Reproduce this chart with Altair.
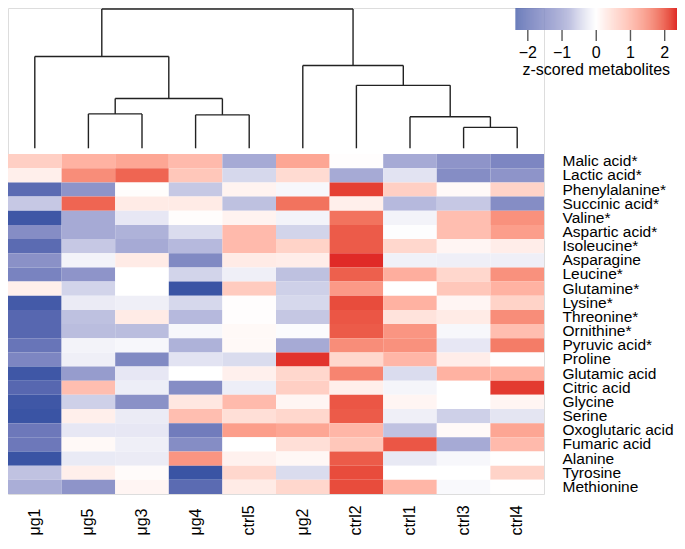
import altair as alt
import numpy as np
import pandas as pd

FONT = "Liberation Sans"

metabolites = [
    "Malic acid*", "Lactic acid*", "Phenylalanine*", "Succinic acid*", "Valine*",
    "Aspartic acid*", "Isoleucine*", "Asparagine", "Leucine*", "Glutamine*",
    "Lysine*", "Threonine*", "Ornithine*", "Pyruvic acid*", "Proline",
    "Glutamic acid", "Citric acid", "Glycine", "Serine", "Oxoglutaric acid",
    "Fumaric acid", "Alanine", "Tyrosine", "Methionine",
]
samples = ["μg1", "μg5", "μg3", "μg4", "ctrl5", "μg2", "ctrl2", "ctrl1", "ctrl3", "ctrl4"]

# z-scores per sample column (rows in metabolite order)
ug1 = [0.6, 0.2, -2.0, -0.7, -2.3, -1.5, -2.0, -1.45, -1.65, 0.2, -2.25, -2.05,
       -2.05, -1.85, -1.6, -2.3, -2.05, -2.3, -2.35, -1.8, -1.8, -2.35, -0.78, -1.05]
ug5 = [0.95, 1.4, -1.4, 1.85, -1.1, -1.1, -0.7, -0.15, -1.4, -0.55, -0.25, -0.8,
       -0.85, -0.15, -0.2, -1.3, 0.8, -0.6, 0.2, -0.3, 0.08, -0.27, 0.2, -1.4]
ug3 = [1.1, 1.85, 0.03, 0.25, -0.3, -1.0, -1.1, 0.25, 0.0, 0.0, -0.2, 0.25,
       -0.85, -0.1, -1.55, -0.3, -0.22, -1.45, -0.25, -0.3, -0.2, -0.25, 0.05, 0.12]
ug4 = [0.85, 0.7, -0.7, 0.25, 0.03, -0.45, -0.9, -1.55, -0.55, -2.35, -0.5, -0.9,
       -0.1, -1.0, -0.35, 0.0, -1.5, 0.3, 0.8, -1.75, -1.5, 1.3, -2.35, -2.0]
ctrl5 = [-1.1, -0.5, 0.15, -0.8, 0.15, 0.85, 0.85, 0.25, -0.2, 0.65, 0.02, 0.02,
         0.08, 0.08, -0.45, 0.18, -0.22, 0.85, 0.4, 1.2, 0.0, 0.17, 0.5, 0.25]
ug2 = [1.1, 0.45, -0.1, 1.7, -0.15, -0.55, 0.55, 0.22, -0.8, -0.6, -0.5, -0.72,
       -0.05, -1.1, 2.3, 0.5, 0.6, 0.12, 0.5, 1.1, 0.4, 0.1, -0.45, 0.5]
ctrl2 = [0.02, -1.1, 2.2, 0.2, 1.7, 1.95, 1.95, 2.36, 1.9, 1.25, 2.1, 2.0,
         1.95, 1.4, 0.5, 1.5, 0.2, 2.0, 1.95, 0.9, 0.7, 1.95, 2.1, 2.1]
ctrl1 = [-1.1, -0.35, 0.6, -0.9, -0.15, -0.03, 0.5, -0.18, 1.0, 0.0, 0.95, 0.35,
         1.3, 1.35, 0.9, -0.45, -0.12, 0.12, -0.2, -0.78, 2.0, -0.28, 0.0, 0.9]
ctrl3 = [-1.4, -1.5, 0.07, -0.7, 0.8, 0.8, 0.12, -0.2, 0.5, 0.7, 0.12, 0.25,
         -0.1, -0.3, 0.22, 0.95, 0.0, 0.0, -0.6, 0.07, -1.1, -0.1, 0.0, -0.07]
ctrl4 = [-1.6, -1.4, 0.55, -1.5, 1.35, 1.2, 0.22, -0.2, 1.35, 0.95, 0.55, 1.4,
         0.8, 1.6, 0.02, 0.95, 2.25, 0.12, -0.33, 1.1, 0.85, 0.01, 0.55, 0.01]

# column dendrogram: (left child, right child, merge height); ints refer to earlier merges
merges = [
    ("μg5", "μg3", 2.47),
    ("μg4", "ctrl5", 2.40),
    (0, 1, 3.57),
    ("μg1", 2, 6.59),
    ("ctrl3", "ctrl4", 1.50),
    ("ctrl1", 4, 2.26),
    ("ctrl2", 5, 4.52),
    ("μg2", 6, 5.94),
    (3, 7, 10.0),
]

colorbar_ticks = [-2, -1, 0, 1, 2]
colorbar_labels = ["\u22122", "\u22121", "0", "1", "2"]
colorbar_title = "z-scored metabolites"
z_limit = 2.36

# ---------- layout ----------
W = 536
H = 486
heat_top = 146.1
dendro_bottom = 140.3
dendro_top = 1.0
dendro_max = 10.0
cb_left, cb_right = 507.5, 669.0
cb_thick = 22
cb_tick_len = 11
cb_label_y = 45
cb_title_y = 62

blue, red = "#3953A4", "#E02A27"
color_scale = alt.Scale(domain=[-z_limit, 0, z_limit], range=[blue, "#FFFFFF", red],
                        interpolate="lab", clamp=True)
cb_x_scale = alt.Scale(domain=[-z_limit, z_limit], range=[cb_left, cb_right])

# ---------- build tables ----------
columns = {"μg1": ug1, "μg5": ug5, "μg3": ug3, "μg4": ug4, "ctrl5": ctrl5,
           "μg2": ug2, "ctrl2": ctrl2, "ctrl1": ctrl1, "ctrl3": ctrl3, "ctrl4": ctrl4}
heat_rows = []
for s in samples:
    for m, v in zip(metabolites, columns[s]):
        heat_rows.append({"sample": s, "metabolite": m, "z": v})
heat_df = pd.DataFrame(heat_rows)

node_pos, node_h = [], []
segs = []


def child(c):
    if isinstance(c, str):
        return float(samples.index(c)), 0.0
    return node_pos[c], node_h[c]


for a, b, h in merges:
    xa, ha = child(a)
    xb, hb = child(b)
    segs.append({"x": xa, "x2": xa, "y": ha, "y2": h})
    segs.append({"x": xb, "x2": xb, "y": hb, "y2": h})
    segs.append({"x": xa, "x2": xb, "y": h, "y2": h})
    node_pos.append((xa + xb) / 2)
    node_h.append(h)
dendro_df = pd.DataFrame(segs)

# colour ramp for the colour bar (continuous strip of the colour scale)
edges = np.linspace(-z_limit, z_limit, 161)
ramp_df = pd.DataFrame({"z0": edges[:-1], "z1": edges[1:], "z": (edges[:-1] + edges[1:]) / 2})
tick_df = pd.DataFrame({"v": colorbar_ticks, "label": colorbar_labels,
                        "t0": [0.0] * len(colorbar_ticks), "t1": [1.0] * len(colorbar_ticks)})
title_df = pd.DataFrame({"v": [0.0], "label": [colorbar_title]})

# ---------- charts ----------
heat = alt.Chart(heat_df).mark_rect().encode(
    x=alt.X("sample:N", sort=samples,
            scale=alt.Scale(paddingInner=0, paddingOuter=0),
            axis=alt.Axis(title=None, orient="bottom", labelAngle=-90, labelAlign="left",
                          labelBaseline="middle", labelPadding=41, ticks=False, tickSize=0,
                          domain=False, labelFontSize=16, labelFont=FONT, labelColor="black")),
    y=alt.Y("metabolite:N", sort=metabolites,
            scale=alt.Scale(range=[heat_top, H], paddingInner=0, paddingOuter=0),
            axis=alt.Axis(title=None, orient="right", ticks=False, tickSize=0, domain=False,
                          labelPadding=18, labelFontSize=15.5, labelFont=FONT,
                          labelColor="black")),
    color=alt.Color("z:Q", scale=color_scale, legend=None),
)

dendro = alt.Chart(dendro_df).mark_rule(color="#222222", strokeWidth=1.4).encode(
    x=alt.X("x:Q", scale=alt.Scale(domain=[-0.5, len(samples) - 0.5]), axis=None),
    x2="x2:Q",
    y=alt.Y("y:Q", scale=alt.Scale(domain=[0, dendro_max], range=[dendro_bottom, dendro_top]),
            axis=None),
    y2="y2:Q",
)

cbar = alt.Chart(ramp_df).mark_rect(stroke=None).encode(
    x=alt.X("z0:Q", scale=cb_x_scale, axis=None),
    x2="z1:Q",
    y=alt.value(0),
    y2=alt.value(cb_thick),
    color=alt.Color("z:Q", scale=color_scale, legend=None),
)

cb_ticks = alt.Chart(tick_df).mark_tick(
    orient="vertical", color="#111111", thickness=1.4, size=cb_tick_len
).encode(
    x=alt.X("v:Q", scale=cb_x_scale, axis=None),
    y=alt.value(cb_thick + cb_tick_len / 2),
)

cb_labels = alt.Chart(tick_df).mark_text(
    font=FONT, fontSize=16, color="black", baseline="middle", align="center"
).encode(
    x=alt.X("v:Q", scale=cb_x_scale, axis=None),
    y=alt.value(cb_label_y),
    text="label:N",
)

cb_title = alt.Chart(title_df).mark_text(
    font=FONT, fontSize=16, color="black", baseline="middle", align="center"
).encode(
    x=alt.X("v:Q", scale=cb_x_scale, axis=None),
    y=alt.value(cb_title_y),
    text="label:N",
)

colorbar = alt.layer(cbar, cb_ticks, cb_labels, cb_title)

chart = alt.layer(heat, dendro, colorbar).resolve_scale(
    x="independent", y="independent"
).properties(width=W, height=H, padding=0).configure_view(stroke=None).configure(font=FONT)

chart.save("out.html", embed_options={"renderer": "svg", "actions": False})
